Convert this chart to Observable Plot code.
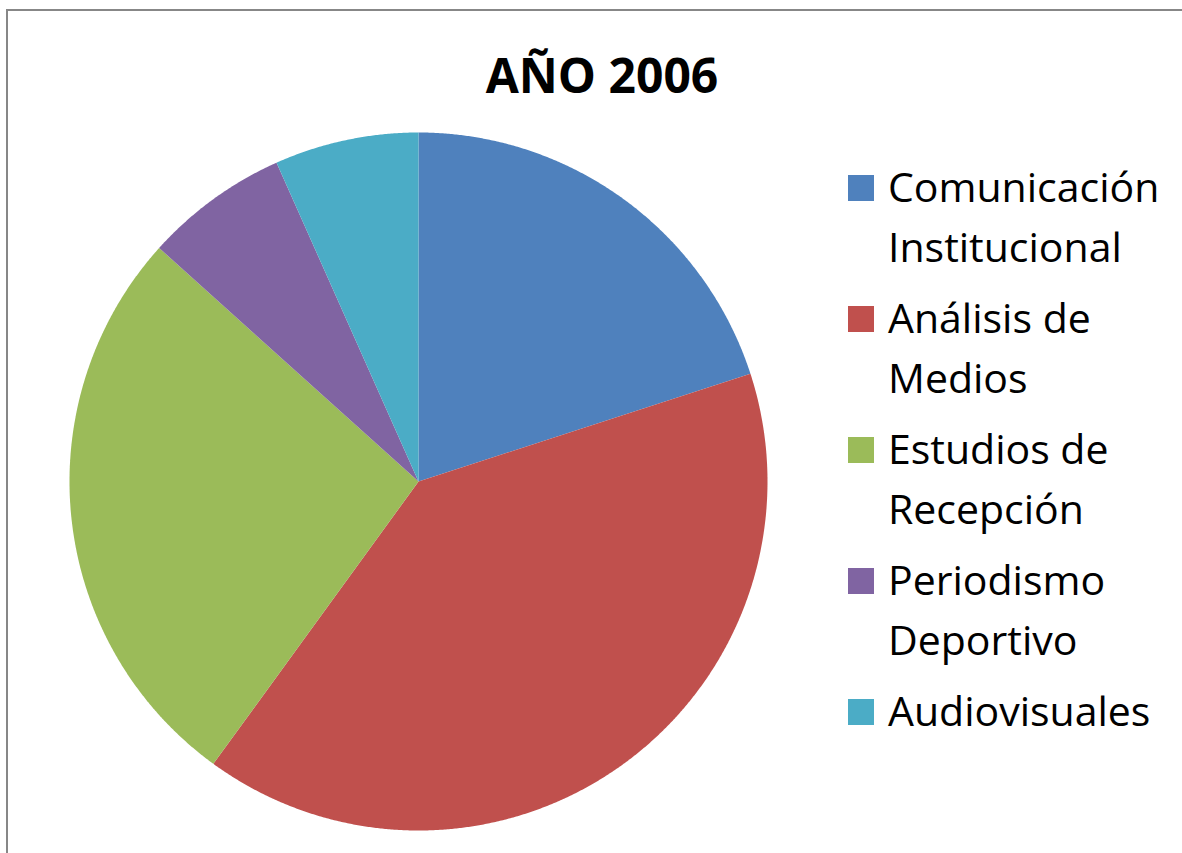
<!DOCTYPE html>
<html>
<head>
<meta charset="utf-8">
<script src="https://cdn.jsdelivr.net/npm/d3@7"></script>
<script src="https://cdn.jsdelivr.net/npm/@observablehq/plot@0.6"></script>
<style>
  html, body { margin: 0; padding: 0; background: #fff; width: 1182px; height: 853px; overflow: hidden; }
  #frame { position: absolute; left: 6px; top: 9px; width: 1300px; height: 1000px; border-top: 2px solid #878787; border-left: 2px solid #878787; }
  #title { position: absolute; left: 0; top: 51px; width: 1204px; text-align: center; font-family: "Open Sans", sans-serif; font-weight: bold; font-size: 48px; line-height: 48px; color: #000; }
  #chart { position: absolute; left: 0; top: 110px; }
  #legend { position: absolute; left: 848px; top: 156px; font-family: "Open Sans", sans-serif; font-size: 41px; line-height: 60px; color: #000; }
  .item { position: relative; padding-left: 40px; margin-bottom: 11px; }
  .sw { position: absolute; left: 0; top: 19px; width: 26px; height: 26px; }
</style>
</head>
<body>
<div id="frame"></div>
<div id="title"></div>
<div id="chart"></div>
<div id="legend"></div>
<script>
const titleText = "AÑO 2006";
const categories = ["Comunicación Institucional", "Análisis de Medios", "Estudios de Recepción", "Periodismo Deportivo", "Audiovisuales"];
const legendLines = [["Comunicación", "Institucional"], ["Análisis de", "Medios"], ["Estudios de", "Recepción"], ["Periodismo", "Deportivo"], ["Audiovisuales"]];
const values = [3, 6, 4, 1, 1];
const colors = ["#4F81BD", "#C0504D", "#9BBB59", "#8064A2", "#4BACC6"];

document.getElementById("title").textContent = titleText;

const arcs = d3.pie().sort(null).value(d => d.value)(categories.map((c, i) => ({category: c, value: values[i]})));
const pts = [];
for (const a of arcs) {
  const cat = a.data.category;
  pts.push({category: cat, x: 0, y: 0});
  const n = Math.max(2, Math.ceil((a.endAngle - a.startAngle) / (Math.PI / 720)));
  for (let k = 0; k <= n; k++) {
    const t = a.startAngle + (a.endAngle - a.startAngle) * k / n;
    pts.push({category: cat, x: Math.sin(t), y: Math.cos(t)});
  }
  pts.push({category: cat, x: 0, y: 0});
}

const chart = Plot.plot({
  width: 840,
  height: 743,
  marginLeft: 69,
  marginRight: 73,
  marginTop: 22,
  marginBottom: 23,
  x: {domain: [-1, 1], axis: null},
  y: {domain: [-1, 1], axis: null},
  color: {domain: categories, range: colors},
  marks: [
    Plot.line(pts, {x: "x", y: "y", z: "category", fill: "category", stroke: "none", curve: "linear-closed"})
  ]
});
document.getElementById("chart").appendChild(chart);

const legend = document.getElementById("legend");
categories.forEach((c, i) => {
  const item = document.createElement("div");
  item.className = "item";
  const sw = document.createElement("div");
  sw.className = "sw";
  sw.style.background = colors[i];
  item.appendChild(sw);
  legendLines[i].forEach(l => {
    const line = document.createElement("div");
    line.textContent = l;
    item.appendChild(line);
  });
  legend.appendChild(item);
});
</script>
</body>
</html>
